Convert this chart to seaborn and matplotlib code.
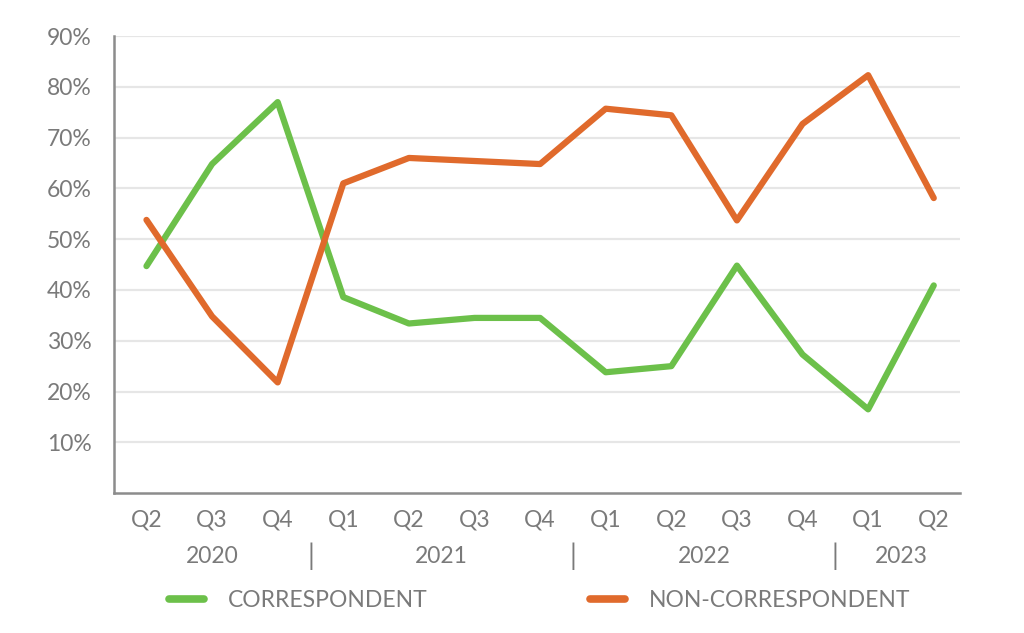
import pandas as pd
import seaborn as sns
import matplotlib.pyplot as plt
from matplotlib.transforms import blended_transform_factory

# quarters and series values (percent)
quarters = ['Q2', 'Q3', 'Q4', 'Q1', 'Q2', 'Q3', 'Q4', 'Q1', 'Q2', 'Q3', 'Q4', 'Q1', 'Q2']
years = ['2020', '2020', '2020', '2021', '2021', '2021', '2021',
         '2022', '2022', '2022', '2022', '2023', '2023']
correspondent = [44.7, 64.8, 77.0, 38.6, 33.4, 34.5, 34.5, 23.8, 25.0, 44.8, 27.3, 16.5, 40.9]
non_correspondent = [53.8, 34.8, 21.8, 61.0, 66.0, 65.4, 64.8, 75.7, 74.4, 53.7, 72.7, 82.3, 58.1]
series_names = ['CORRESPONDENT', 'NON-CORRESPONDENT']
colors = ['#6cc04a', '#e06a2c']
y_ticks = [10, 20, 30, 40, 50, 60, 70, 80, 90]

grey = '#7a7a7a'
fs = 16.5
sns.set_style('white')
plt.rcParams['font.family'] = ['Lato', 'DejaVu Sans']

idx = list(range(len(quarters)))
df = pd.DataFrame({
    'idx': idx * 2,
    'value': correspondent + non_correspondent,
    'series': [series_names[0]] * len(idx) + [series_names[1]] * len(idx),
})

fig = plt.figure(figsize=(10.24, 6.33), dpi=100)
ax = fig.add_axes([0.111, 0.221, 0.8265, 0.722])

sns.lineplot(data=df, x='idx', y='value', hue='series', hue_order=series_names,
             palette=colors, linewidth=4.5, ax=ax, legend=False,
             solid_capstyle='round', solid_joinstyle='round')

ax.set_xlim(-0.5, 12.4)
ax.set_ylim(0, 90)
ax.set_yticks(y_ticks)
ax.set_yticklabels([f'{v}%' for v in y_ticks])
ax.set_xticks(idx)
ax.set_xticklabels(quarters)
ax.set_xlabel('')
ax.set_ylabel('')
ax.yaxis.grid(True, color='#e6e6e6', linewidth=1.6)
ax.set_axisbelow(True)

for side in ['top', 'right']:
    ax.spines[side].set_visible(False)
for side in ['left', 'bottom']:
    ax.spines[side].set_color('#8c8c8c')
    ax.spines[side].set_linewidth(1.8)

ax.tick_params(axis='y', length=0, pad=16, labelsize=fs, labelcolor=grey)
ax.tick_params(axis='x', length=6, width=1.8, color='#8c8c8c', pad=6,
               labelsize=fs, labelcolor=grey)

# year labels and separators under the quarter labels
trans = blended_transform_factory(ax.transData, ax.transAxes)
groups = {}
for i, y in enumerate(years):
    groups.setdefault(y, []).append(i)
keys = list(groups)
for k, y in enumerate(keys):
    pos = groups[y]
    ax.text(sum(pos) / len(pos), -0.138, y, transform=trans, ha='center', va='center',
            fontsize=fs, color=grey)
    if k > 0:
        ax.text(pos[0] - 0.5, -0.138, '|', transform=trans, ha='center', va='center',
                fontsize=20, color=grey)

# legend
handles = [plt.Line2D([], [], color=c, linewidth=5.5, solid_capstyle='round') for c in colors]
leg = fig.legend(handles, series_names, loc='center', bbox_to_anchor=(0.527, 0.052),
                 ncol=2, frameon=False, fontsize=fs, handlelength=1.5,
                 handletextpad=1.05, columnspacing=7.1)
for t in leg.get_texts():
    t.set_color(grey)

fig.savefig('out.png', dpi=100)
